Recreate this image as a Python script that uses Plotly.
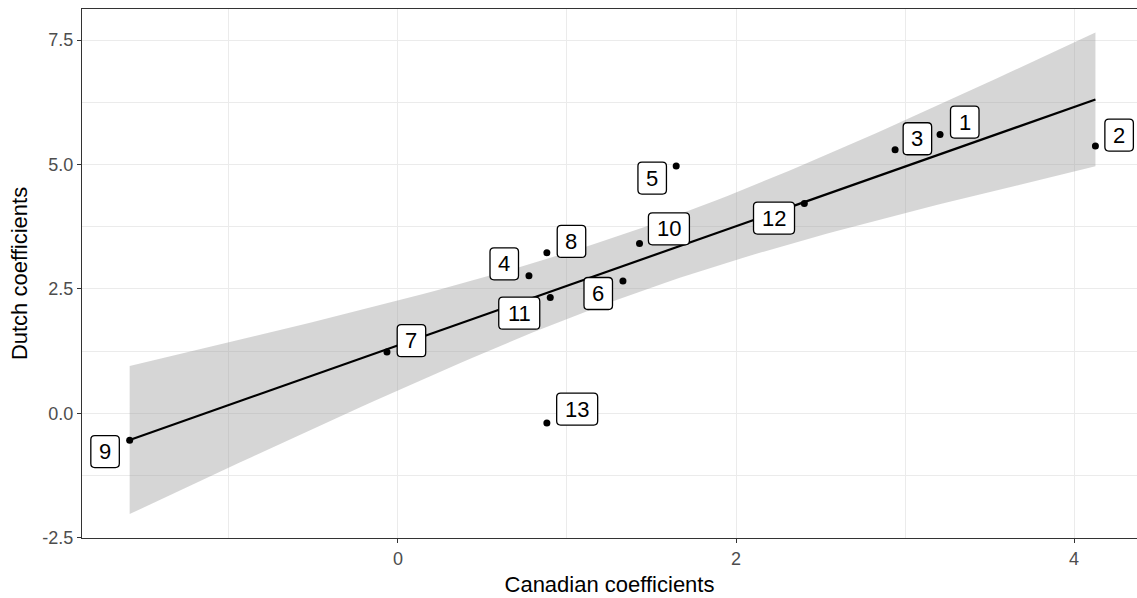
import numpy as np
import plotly.graph_objects as go

# ---- data ----
labels = ["1", "2", "3", "4", "5", "6", "7", "8", "9", "10", "11", "12", "13"]
canadian = [3.207, 4.126, 2.941, 0.775, 1.646, 1.331, -0.065, 0.881, -1.587, 1.429, 0.901, 2.404, 0.881]
dutch = [5.604, 5.369, 5.295, 2.761, 4.967, 2.660, 1.233, 3.223, -0.543, 3.412, 2.327, 4.217, -0.195]

x_ticks = [0, 2, 4]
y_ticks = [-2.5, 0.0, 2.5, 5.0, 7.5]
y_tick_text = ["-2.5", "0.0", "2.5", "5.0", "7.5"]

# label placement offsets (screen pixels, right / down) – layout only
label_dx = [24.7, 23.7, 22.3, -24.7, -24.0, -24.7, 24.5, 24.6, -24.6, 29.4, -31.0, -30.3, 30.3]
label_dy = [-12.3, -11.0, -11.0, -12.0, 12.0, 12.6, -11.2, -11.4, 11.3, -14.6, 15.7, 14.7, -13.9]

# ---- linear fit with 95% confidence band (geom_smooth(method="lm")) ----
x = np.array(canadian)
y = np.array(dutch)
n = len(x)
b1, b0 = np.polyfit(x, y, 1)
resid = y - (b0 + b1 * x)
s = np.sqrt(np.sum(resid ** 2) / (n - 2))
sxx = np.sum((x - x.mean()) ** 2)
t975 = 2.201  # t quantile, df = 11
xs = np.linspace(x.min(), x.max(), 80)
fit = b0 + b1 * xs
se = s * np.sqrt(1 / n + (xs - x.mean()) ** 2 / sxx)
lo = fit - t975 * se
hi = fit + t975 * se

FONT = "Liberation Sans, Arial, sans-serif"

fig = go.Figure()
fig.add_trace(go.Scatter(
    x=np.concatenate([xs, xs[::-1]]), y=np.concatenate([hi, lo[::-1]]),
    fill="toself", fillcolor="rgba(153,153,153,0.4)", line=dict(width=0),
    mode="lines", hoverinfo="skip", showlegend=False))
fig.add_trace(go.Scatter(x=xs, y=fit, mode="lines",
                         line=dict(color="black", width=2.2), showlegend=False))
fig.add_trace(go.Scatter(x=canadian, y=dutch, mode="markers",
                         marker=dict(color="black", size=7), showlegend=False))

shapes = []
annotations = []
for lab, cx, cy, dx, dy in zip(labels, canadian, dutch, label_dx, label_dy):
    w = 16 + 12.5 * len(lab)
    h = 32
    r = 4
    x0, x1 = dx - w / 2, dx + w / 2
    # pixel y in shape paths points up
    yc = -dy
    y0, y1 = yc - h / 2, yc + h / 2
    path = (f"M {x0 + r},{y0} L {x1 - r},{y0} Q {x1},{y0} {x1},{y0 + r} "
            f"L {x1},{y1 - r} Q {x1},{y1} {x1 - r},{y1} L {x0 + r},{y1} "
            f"Q {x0},{y1} {x0},{y1 - r} L {x0},{y0 + r} Q {x0},{y0} {x0 + r},{y0} Z")
    shapes.append(dict(type="path", xref="x", yref="y", xsizemode="pixel", ysizemode="pixel",
                       xanchor=cx, yanchor=cy, path=path, fillcolor="white",
                       line=dict(color="black", width=1.3), layer="above"))
    annotations.append(dict(x=cx, y=cy, xref="x", yref="y", text=lab, showarrow=False,
                            xshift=dx, yshift=-dy, xanchor="center", yanchor="middle",
                            font=dict(family=FONT, size=22, color="black")))

fig.update_layout(
    width=1137, height=598,
    margin=dict(l=82, r=0, t=9, b=60, autoexpand=False),
    paper_bgcolor="white", plot_bgcolor="white",
    shapes=shapes, annotations=annotations,
    font=dict(family=FONT),
    xaxis=dict(
        range=[-1.869, 4.372], tickmode="array", tickvals=x_ticks,
        ticktext=[str(v) for v in x_ticks],
        showgrid=True, gridcolor="#EBEBEB", gridwidth=1.1,
        minor=dict(tickmode="array", tickvals=[-1, 1, 3], showgrid=True,
                   gridcolor="#EBEBEB", gridwidth=0.6, ticks=""),
        zeroline=False, showline=True, linecolor="#333333", linewidth=1.3, mirror=True,
        ticks="outside", ticklen=4, tickcolor="#333333", tickwidth=1.1,
        tickfont=dict(size=18, color="#4D4D4D", family=FONT),
        title=dict(text="Canadian coefficients", font=dict(size=22, color="black", family=FONT),
                   standoff=8),
    ),
    yaxis=dict(
        range=[-2.507, 8.124], tickmode="array", tickvals=y_ticks, ticktext=y_tick_text,
        showgrid=True, gridcolor="#EBEBEB", gridwidth=1.1,
        minor=dict(tickmode="array", tickvals=[-1.25, 1.25, 3.75, 6.25], showgrid=True,
                   gridcolor="#EBEBEB", gridwidth=0.6, ticks=""),
        zeroline=False, showline=True, linecolor="#333333", linewidth=1.3, mirror=False,
        ticks="outside", ticklen=4, tickcolor="#333333", tickwidth=1.1,
        tickfont=dict(size=18, color="#4D4D4D", family=FONT),
        title=dict(text="Dutch coefficients", font=dict(size=22, color="black", family=FONT),
                   standoff=8),
    ),
)

fig.write_html("out.html", config={"displayModeBar": False},
               post_script="document.body.style.margin='0';document.body.style.overflow='hidden';")
